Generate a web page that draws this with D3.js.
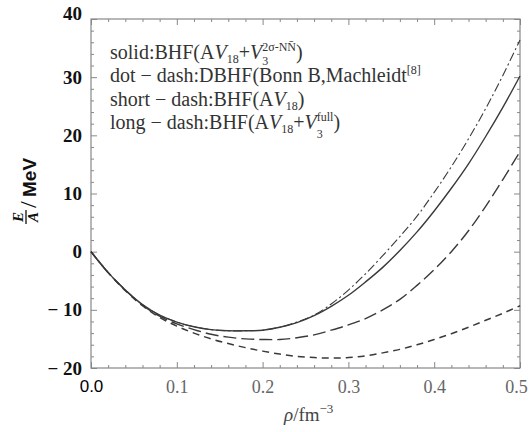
<!DOCTYPE html>
<html><head><meta charset="utf-8">
<script src="https://cdn.jsdelivr.net/npm/d3@7"></script>
<style>body{margin:0;background:#fff}svg{display:block}</style>
</head><body>
<svg id="c" width="530" height="432"></svg>
<script>
const rho = [0,0.02,0.04,0.06,0.08,0.10,0.12,0.14,0.16,0.18,0.20,0.22,0.24,0.26,0.28,0.30,0.32,0.34,0.36,0.38,0.40,0.42,0.44,0.46,0.48,0.50];
const solidE = [0,-3.6,-6.6,-9.1,-10.9,-12.1,-12.9,-13.4,-13.6,-13.6,-13.5,-13.0,-12.2,-11.0,-9.4,-7.5,-5.2,-2.7,0.2,3.4,7.0,10.9,15.1,19.8,24.8,30.2];
const dotDashE = [0,-3.6,-6.6,-9.1,-10.9,-12.1,-12.9,-13.4,-13.6,-13.6,-13.5,-13.0,-12.1,-10.9,-9.0,-6.6,-3.8,-0.7,2.6,6.1,10.2,14.6,19.4,24.6,30.3,36.4];
const longDashE = [0,-3.6,-6.6,-9.2,-11.1,-12.4,-13.4,-14.2,-14.7,-15.0,-15.1,-15.1,-14.8,-14.3,-13.5,-12.6,-11.5,-10.0,-8.2,-5.8,-3.1,0.0,3.6,7.8,12.4,17.2];
const shortDashE = [0,-3.6,-6.7,-9.3,-11.3,-12.8,-14.0,-15.0,-15.8,-16.5,-17.1,-17.6,-18.0,-18.2,-18.3,-18.2,-17.9,-17.4,-16.8,-16.0,-15.1,-14.1,-13.0,-11.8,-10.6,-9.3];
const xTicks = [0,0.1,0.2,0.3,0.4,0.5];
const xTickLabels = ["0.0","0.1","0.2","0.3","0.4","0.5"];
const yTicks = [-20,-10,0,10,20,30,40];
const yTickLabels = ["− 20","− 10","0","10","20","30","40"];

const svg = d3.select("#c");
const L=91,R=520,T=19,B=368;
const x = d3.scaleLinear().domain([0,0.5]).range([L,R]);
const y = d3.scaleLinear().domain([-20,40]).range([B,T]);
const frameCol="#888";

const xMinor = d3.range(0,0.5001,0.02).map(v=>+v.toFixed(2)).filter(v=>!xTicks.some(t=>Math.abs(t-v)<1e-9));
const yMinor = d3.range(-20,40.01,2).filter(v=>v%10!==0);

function styleAxis(g){ g.select(".domain").remove(); g.selectAll(".tick line").attr("stroke",frameCol).attr("stroke-width",1); }

// bottom
svg.append("g").attr("transform",`translate(0,${B})`)
  .call(d3.axisBottom(x).tickValues(xTicks).tickSize(-6).tickPadding(12).tickFormat((d,i)=>xTickLabels[i]))
  .call(styleAxis)
  .call(g=>{
    g.selectAll("text").attr("font-family","Liberation Serif").attr("font-size",18).attr("fill","#666");
    g.selectAll("text").filter(d=>d===0).attr("font-family","Liberation Sans").attr("fill","#000").attr("font-size",17);
    g.selectAll("text").filter(d=>d===0.5).attr("dx",-4);
  });
svg.append("g").attr("transform",`translate(0,${B})`)
  .call(d3.axisBottom(x).tickValues(xMinor).tickSize(-3).tickFormat(""))
  .call(styleAxis);
// top
svg.append("g").attr("transform",`translate(0,${T})`)
  .call(d3.axisTop(x).tickValues(xTicks).tickSize(-6).tickFormat("")).call(styleAxis);
svg.append("g").attr("transform",`translate(0,${T})`)
  .call(d3.axisTop(x).tickValues(xMinor).tickSize(-3).tickFormat("")).call(styleAxis);
// left
svg.append("g").attr("transform",`translate(${L},0)`)
  .call(d3.axisLeft(y).tickValues(yTicks).tickSize(-6).tickPadding(9).tickFormat((d,i)=>yTickLabels[i]))
  .call(styleAxis)
  .call(g=>g.selectAll("text").attr("font-family","Liberation Serif").attr("font-weight","bold").attr("font-size",19).attr("fill","#111")
     .filter(d=>d===40).attr("dy","0.05em"));
svg.append("g").attr("transform",`translate(${L},0)`)
  .call(d3.axisLeft(y).tickValues(yMinor).tickSize(-3).tickFormat("")).call(styleAxis);
// right
svg.append("g").attr("transform",`translate(${R},0)`)
  .call(d3.axisRight(y).tickValues(yTicks).tickSize(-6).tickFormat("")).call(styleAxis);
svg.append("g").attr("transform",`translate(${R},0)`)
  .call(d3.axisRight(y).tickValues(yMinor).tickSize(-3).tickFormat("")).call(styleAxis);

svg.append("rect").attr("x",L).attr("y",T).attr("width",R-L).attr("height",B-T)
  .attr("fill","none").attr("stroke",frameCol).attr("stroke-width",1.2);

// curves
const line = d3.line().x((d,i)=>x(rho[i])).y(d=>y(d)).curve(d3.curveCatmullRom.alpha(0.5));
const series = [
  {v:shortDashE, dash:"7,5", w:1.5},
  {v:longDashE, dash:"13,5", w:1.4},
  {v:dotDashE, dash:"9,3,2,3", w:1.1},
  {v:solidE, dash:null, w:1.4}
];
const cg = svg.append("g");
series.forEach(s=>{
  cg.append("path").attr("d",line(s.v)).attr("fill","none").attr("stroke","#3a3a3a")
    .attr("stroke-width",s.w).attr("stroke-dasharray",s.dash);
});

// legend
const lg = svg.append("g").attr("font-family","Liberation Serif").attr("font-size",20).attr("fill","#333");
function addLine(yb, parts){
  const t = lg.append("text").attr("x",110).attr("y",yb);
  parts.forEach(p=>{
    const ts = t.append("tspan").text(p.t);
    if(p.i) ts.attr("font-style","italic");
    if(p.fs) ts.attr("font-size",p.fs);
    if(p.dy) ts.attr("dy",p.dy);
    if(p.dx) ts.attr("dx",p.dx);
  });
}
addLine(59,[{t:"solid:BHF(A"},{t:"V",i:1},{t:"18",fs:12,dy:4},{t:"+",dy:-4},{t:"V",i:1},
  {t:"3",fs:12,dy:6},{t:"2σ-NN̄",fs:12,dx:-6,dy:-14},{t:")",dy:8}]);
addLine(82,[{t:"dot − dash:DBHF(Bonn B,Machleidt"},{t:"[8]",fs:12,dy:-8}]);
addLine(106,[{t:"short − dash:BHF(A"},{t:"V",i:1},{t:"18",fs:12,dy:4},{t:")",dy:-4}]);
addLine(129,[{t:"long − dash:BHF(A"},{t:"V",i:1},{t:"18",fs:12,dy:4},{t:"+",dy:-4},{t:"V",i:1},
  {t:"3",fs:12,dy:9},{t:"full",fs:12,dx:-6,dy:-17},{t:")",dy:8}]);

// x title
const xt = svg.append("text").attr("x",284).attr("y",421).attr("font-family","Liberation Serif")
  .attr("font-size",19).attr("fill","#444");
xt.append("tspan").text("ρ").attr("font-style","italic");
xt.append("tspan").text("/fm");
xt.append("tspan").text("−3").attr("font-size",13).attr("dy",-8);

// y title (rotated)
const yt = svg.append("g").attr("transform","translate(26,217) rotate(-90)")
  .attr("font-family","Liberation Serif").attr("font-weight","bold").attr("fill","#111");
yt.append("text").attr("x",0).attr("y",-3).attr("text-anchor","middle").attr("font-size",15).attr("font-style","italic").text("E");
yt.append("text").attr("x",0).attr("y",12).attr("text-anchor","middle").attr("font-size",15).attr("font-style","italic").text("A");
yt.append("line").attr("x1",-7).attr("x2",7).attr("y1",0).attr("y2",0).attr("stroke","#111").attr("stroke-width",1.3);
yt.append("text").attr("x",9).attr("y",10).attr("font-size",24).attr("font-weight","normal").text("/");
yt.append("text").attr("x",20).attr("y",10).attr("font-family","Liberation Sans").attr("font-size",19).text("MeV");
</script>
</body></html>
